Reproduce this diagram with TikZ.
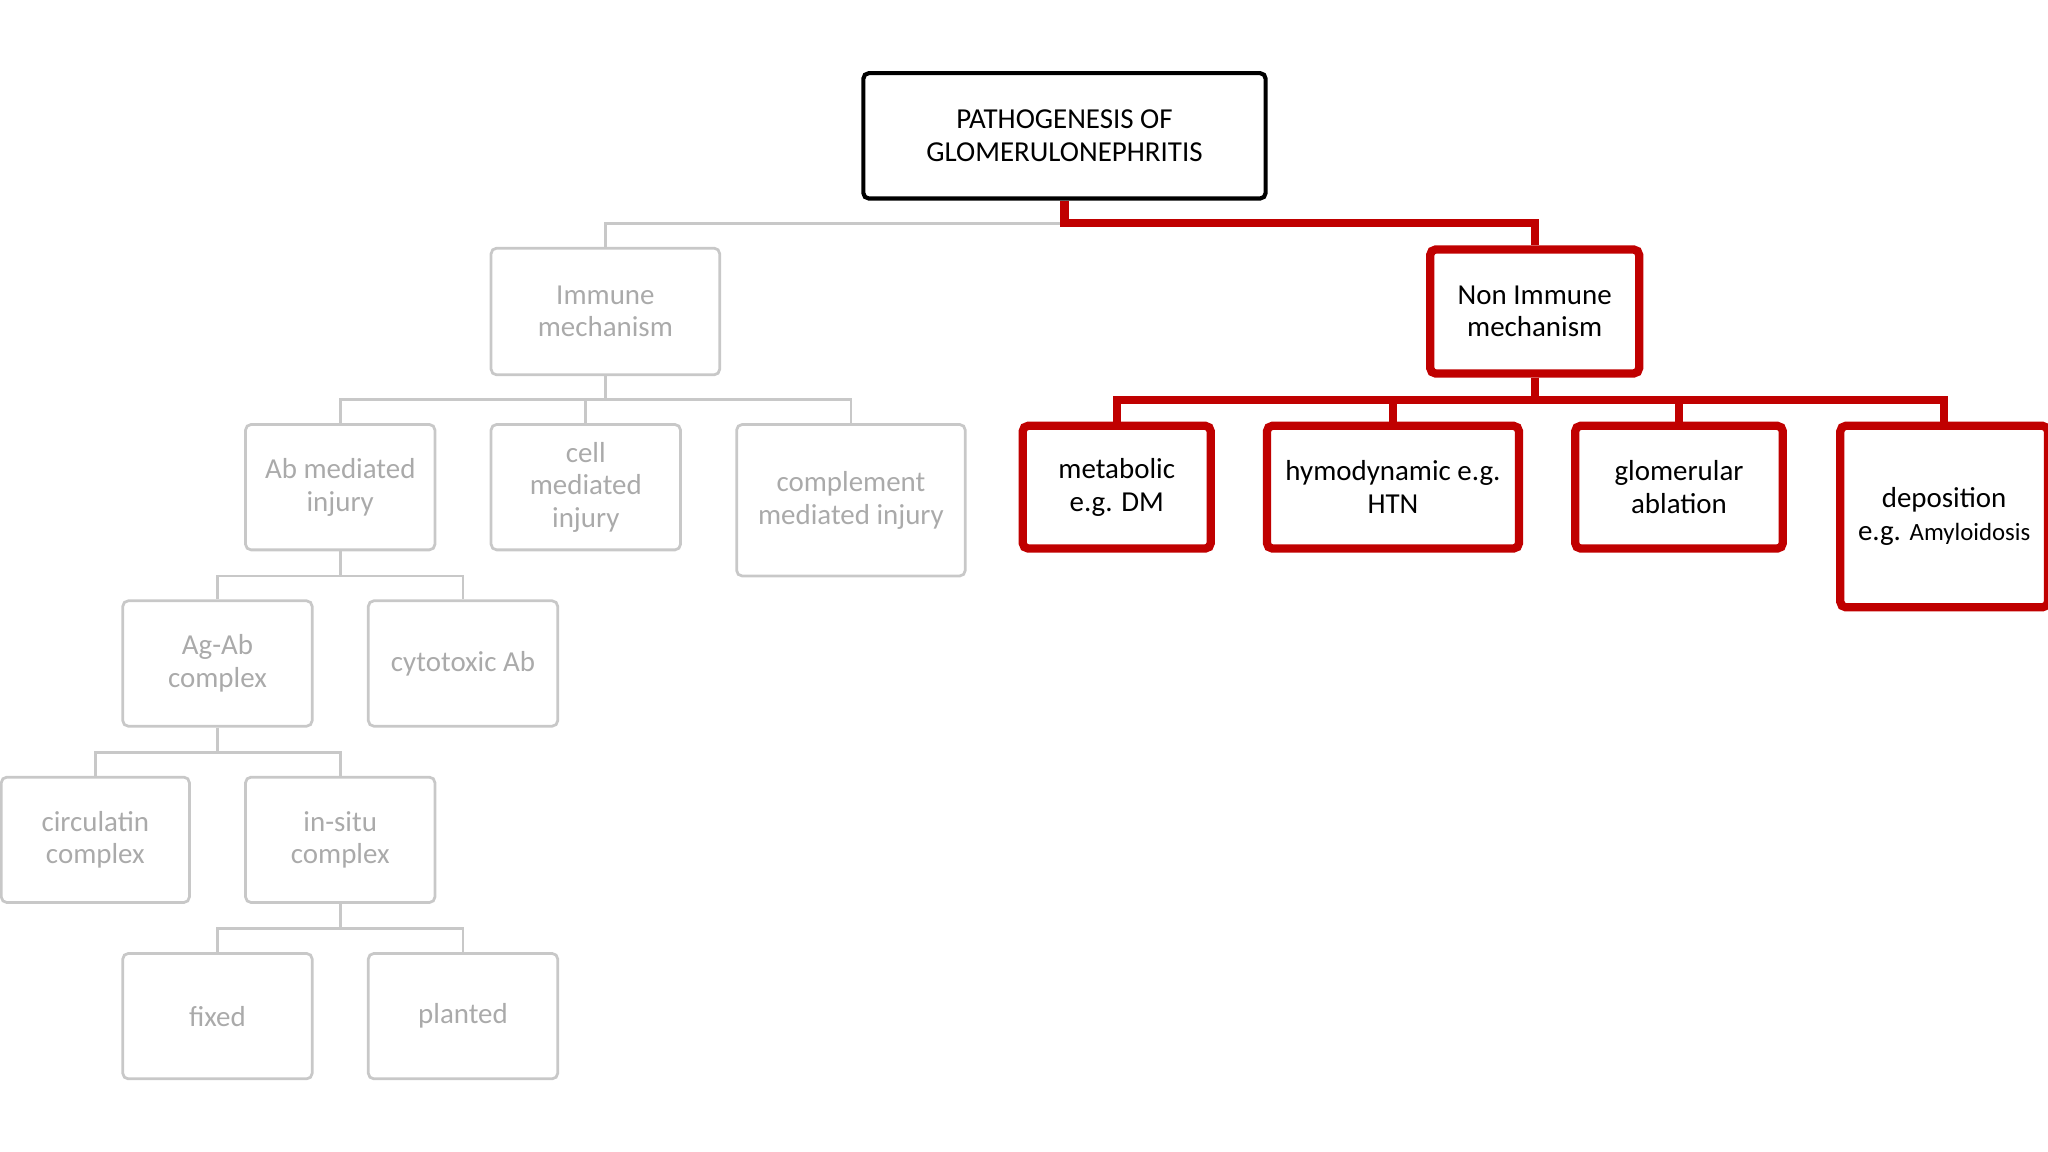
\documentclass[tikz,border=0pt]{standalone}
\usepackage{fontspec}
\setmainfont{Carlito}
\begin{document}
\begin{tikzpicture}[x=0.01cm,y=-0.01cm,
  base/.style={rounded corners=1.2pt,align=center,font=\fontsize{6.3}{7.1}\selectfont,inner sep=0pt},
  gbox/.style={base,draw=gline,line width=0.6pt,text=gtext},
  rbox/.style={base,draw=rred,line width=1.8pt,text=black},
  tbox/.style={base,draw=black,line width=0.9pt,text=black},
  gcon/.style={draw=gline,line width=0.6pt},
  rcon/.style={draw=rred,line width=1.8pt}]
\definecolor{gline}{HTML}{C8C8C8}
\definecolor{gtext}{HTML}{AAAAAA}
\definecolor{rred}{HTML}{C00000}
\useasboundingbox (0,0) rectangle (1568,882);
\clip (0,0) rectangle (1568,882);
\newcommand{\bx}[7]{\node[#1,minimum width=#4*0.01cm-#4*0.01cm+(#5-#3)*0.01cm,minimum height=(#7-#6)*0.01cm] (#2) at ({(#3+#5)/2},{(#6+#7)/2})}
\bx{tbox}{t}{661}{1}{969}{56}{152} {PATHOGENESIS OF\\GLOMERULONEPHRITIS};
\bx{gbox}{im}{376}{1}{551}{190}{287} {Immune\\mechanism};
\bx{rbox}{ni}{1095}{1}{1255}{191}{286} {Non Immune\\mechanism};
\bx{gbox}{ab}{188}{1}{333}{325}{421} {Ab mediated\\injury};
\bx{gbox}{cm}{376}{1}{521}{325}{421} {cell\\mediated\\injury};
\bx{gbox}{co}{564}{1}{739}{325}{441} {complement\\mediated injury};
\bx{rbox}{me}{783}{1}{927}{326}{420} {metabolic\\e.g. DM};
\bx{rbox}{hy}{970}{1}{1163}{326}{420} {hymodynamic e.g.\\HTN};
\bx{rbox}{gl}{1206}{1}{1365}{326}{420} {glomerular\\ablation};
\bx{rbox}{de}{1409}{1}{1568}{326}{465} {deposition\\e.g. {\fontsize{5.4}{7.1}\selectfont Amyloidosis}};
\bx{gbox}{ag}{94}{1}{239}{460}{556} {Ag-Ab\\complex};
\bx{gbox}{cy}{282}{1}{427}{460}{556} {cytotoxic Ab};
\bx{gbox}{ci}{1}{1}{145}{595}{691} {circulatin\\complex};
\bx{gbox}{is}{188}{1}{333}{595}{691} {in-situ\\complex};
\bx{gbox}{fi}{94}{1}{239}{730}{826} {fixed};
\bx{gbox}{pl}{282}{1}{427}{730}{826} {planted};
% connectors
\draw[gcon] (t.south) |- (815,171) -| (im.north);
\draw[rcon] (t.south) |- (1175,171) -| (ni.north);
\foreach \c in {ab,cm,co}{\draw[gcon] (im.south) |- (464,306) -| (\c.north);}
\foreach \c in {me,hy,gl,de}{\draw[rcon] (ni.south) |- (1175,306) -| (\c.north);}
\foreach \c in {ag,cy}{\draw[gcon] (ab.south) |- (261,441) -| (\c.north);}
\foreach \c in {ci,is}{\draw[gcon] (ag.south) |- (166,576) -| (\c.north);}
\foreach \c in {fi,pl}{\draw[gcon] (is.south) |- (261,711) -| (\c.north);}
\end{tikzpicture}
\end{document}
